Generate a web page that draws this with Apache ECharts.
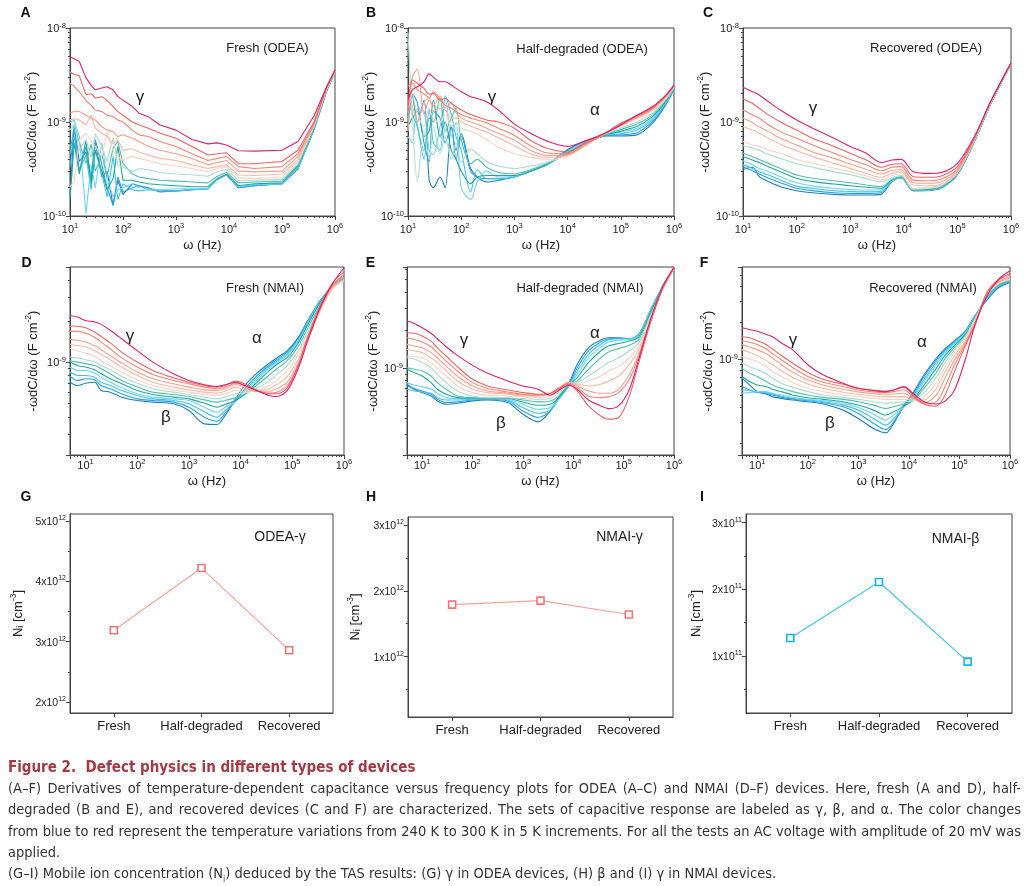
<!DOCTYPE html>
<html><head><meta charset="utf-8">
<script src="https://cdn.jsdelivr.net/npm/echarts@6/dist/echarts.min.js"></script>
<style>
html,body{margin:0;padding:0;background:#fff;}
#chart{position:absolute;left:0;top:0;width:1029px;height:886px;}
#cap{position:absolute;left:8px;top:757px;width:1013px;font-family:'Liberation Sans Narrow','DejaVu Sans Condensed',sans-serif;color:#333;}
#cap .t{font-weight:bold;color:#a63a44;font-size:15px;line-height:21px;white-space:nowrap;}
#cap .l{font-size:14.5px;line-height:21.3px;white-space:nowrap;}
#cap .j{text-align:justify;text-align-last:justify;}
#cap sub{font-size:9px;line-height:0;}
</style></head><body>
<div id="chart"></div>
<div id="cap">
<div class="t">Figure 2.&nbsp; Defect physics in different types of devices</div>
<div class="l j">(A–F) Derivatives of temperature-dependent capacitance versus frequency plots for ODEA (A–C) and NMAI (D–F) devices. Here, fresh (A and D), half-</div>
<div class="l j">degraded (B and E), and recovered devices (C and F) are characterized. The sets of capacitive response are labeled as γ, β, and α. The color changes</div>
<div class="l j">from blue to red represent the temperature variations from 240 K to 300 K in 5 K increments. For all the tests an AC voltage with amplitude of 20 mV was</div>
<div class="l">applied.</div>
<div class="l">(G–I) Mobile ion concentration (N<sub>i</sub>) deduced by the TAS results: (G) γ in ODEA devices, (H) β and (I) γ in NMAI devices.</div>
</div>
<script>
// ---------------- DATA ----------------
// temperatures of the curves (blue -> red)
const TEMPS_K = [240,245,250,255,260,265,270,275,280,285,290,295,300];
const TEMP_COLORS = ['#1f7fbf','#2aa3dc','#43c1ec','#6fd3f2','#1fa89a','#52bfae','#a8ddd0','#fbd3c4','#f8b9a8','#f5a08f','#f28677','#ee6363','#d8246f'];

// -wdC/dw values are in units of 1e-10 F cm^-2, frequencies in Hz
const FREQ_A = [10,12,15,20,25,30,40,50,65,80,100,150,200,300,500,1000,2000,4000,6000,9000,15000,30000,100000,200000,400000,700000,1000000];
const CURVES_A = [ // Fresh (ODEA), 240 K ... 300 K
 [1.6,9.0,3.8,4.8,2.4,6.0,2.6,3.0,1.3,2.4,1.7,2.2,2.1,2.0,1.8,1.85,1.9,1.95,2.45,2.75,2.0,2.1,2.2,3.2,8.2,21.5,34],
 [3.3,8.5,3.0,5.5,2.5,6.5,3.5,2.0,1.3,2.6,1.8,2.0,2.1,1.95,1.85,1.85,1.9,1.95,2.45,2.75,2.0,2.1,2.2,3.2,8.3,21.8,34],
 [5.5,7,3.0,4.5,1.9,5.0,2.8,1.6,4.3,1.5,2.2,1.9,1.85,1.9,1.85,1.85,1.9,1.95,2.45,2.75,2.05,2.15,2.2,3.25,8.4,22,34],
 [9.8,10.5,7,1.05,3.5,2.0,6,2.5,1.6,1.9,2.0,2.2,2.0,1.95,1.9,1.95,1.95,1.95,2.45,2.75,2.05,2.15,2.2,3.3,8.5,22,34],
 [1.5,6,2.8,6.4,2.2,5,3.0,1.9,2.5,5.5,2.4,2.4,2.3,2.2,2.15,2.1,2.05,2.05,2.5,2.78,2.1,2.2,2.25,3.4,8.7,22.2,34.2],
 [4.5,9.5,6.0,3.6,5.8,3.0,4.5,2.6,5.3,6.2,3.6,2.8,2.6,2.5,2.4,2.35,2.3,2.25,2.65,2.9,2.25,2.3,2.35,3.5,8.8,22.3,34.3],
 [8.2,9.5,5,6.5,4.2,7.5,5.5,3.8,6.8,3.5,3.3,3.0,3.2,3.1,2.9,2.8,2.75,2.65,2.95,3.15,2.4,2.4,2.45,3.6,9,22.5,34.5],
 [2.05,2.3,6.4,7.6,6.4,5.5,4.3,7.8,5,4.3,3.94,4.3,4.1,3.9,3.6,3.4,3.2,2.95,3.2,3.35,2.56,2.5,2.6,3.8,9.1,22.6,34.5],
 [10.5,10.8,10.5,9.3,11.8,8.6,7.6,7,5.9,6.4,5.0,5.2,4.8,4.45,4.1,3.9,3.5,3.2,3.35,3.5,2.73,2.7,2.8,4.0,9.3,22.8,34.8],
 [12.4,13,12.9,11.8,11,10.5,8.9,8.2,7.9,7,7.3,6.7,6.2,5.5,5,4.6,4.1,3.5,3.7,3.9,3.0,2.95,3.0,4.3,9.4,23,35],
 [25.8,24,21,17,15,13.4,12.9,11.8,11.4,10.5,10,8.2,7.3,7,6.2,5.5,4.6,3.9,4.1,4.3,3.35,3.2,3.35,4.6,9.7,23.4,35],
 [34,32,31,19.5,20,18,18.6,17,14.6,12.9,11.8,10,9.3,8.6,7.6,6.7,5.5,4.45,4.6,4.7,3.6,3.6,3.8,5.0,10,23.5,35.5],
 [49.5,47,44,29.5,24.5,22,23,23.7,22,18.6,17.1,14.6,12.4,11.4,9.3,8.2,6.5,5.85,6.0,5.7,4.95,4.9,5.0,6.2,11.5,24,36]
];

const FREQ_B = [10,12,15,20,25,30,40,50,65,80,100,150,200,300,500,1000,2000,4000,10000,20000,50000,100000,200000,400000,700000,1000000];
const CURVES_B = [ // Half-degraded (ODEA)
 [12,19,10,17,2.4,2.0,2.6,2.0,9,5,7.5,3.2,2.6,2.3,2.4,2.6,3.0,3.5,5.1,6.2,7.1,7.1,7.3,9.8,15.3,22.3],
 [11,20,16,6,3.8,13,11,6,9,4,7,3.0,2.6,2.5,2.5,2.6,3.0,3.5,5.0,6.1,7.1,7.3,7.7,10.2,15.6,22.5],
 [18,12,9,4,14,6,5,19,12,7,5,1.8,3.1,2.5,2.5,2.6,3.0,3.5,4.9,6.0,7.2,7.5,8.2,10.6,15.9,22.7],
 [7,6,14,13,5,4.5,9,18,7,10,2,1.5,2.3,3.0,2.6,2.65,3.0,3.5,4.8,5.9,7.2,7.8,8.6,11.0,16.2,22.9],
 [9,11,13,7,8,17,7,10,5,4,3.0,2.2,2.6,2.7,2.7,2.7,3.0,3.5,4.7,5.8,7.2,8.0,9.0,11.5,16.6,23.1],
 [8,20,9,5,11,10,18,8,11,14,6.5,3.6,4.0,3.3,2.9,2.8,3.1,3.6,4.6,5.7,7.3,8.3,9.5,12.0,17.0,23.3],
 [90,12,2.3,8,4,9,4.6,7,4,6,3.7,5.2,4.6,3.8,3.4,3.2,3.4,3.7,4.5,5.6,7.4,8.6,10.0,12.6,17.5,23.5],
 [14,20,12,9,14,11,10,12,9,10,8.6,8.0,7.4,6.5,5.4,4.6,4.2,4.0,4.3,5.4,7.5,9.0,10.7,13.3,18.1,23.8],
 [18,15,10,16,18,13,14,13.5,11,11,10,9,8.5,7.8,6.8,5.6,4.6,4.2,4.4,5.5,7.5,9.2,11.0,13.6,18.4,24],
 [8,30,36,12,17,15,19,14,16,12.5,11,10,9.5,8.6,7.6,6.4,5.0,4.4,4.5,5.6,7.5,9.4,11.2,13.9,18.6,24.2],
 [24,26,22,20,18,21,17.5,15,14,13,12,11,10.5,9.8,8.6,7.2,5.6,4.7,4.6,5.7,7.5,9.6,11.4,14.1,18.8,24.3],
 [13.4,28,25.8,22.8,19.7,20.2,17.1,17.8,15.8,14.6,13.4,12,11.4,10.5,10,8.6,6.4,5.3,4.8,5.9,7.6,9.7,11.6,14.3,19,24.5],
 [17.1,21.9,23.7,26.8,32.5,30,26.8,26.8,24.7,22.8,21,18.6,17.8,16.4,13.4,9.5,7.6,6.3,5.5,6.2,7.6,9.3,11.8,14.6,19.3,24.7]
];

const FREQ_C = [10,15,20,30,50,100,200,500,1000,2000,3800,6000,9000,15000,30000,50000,100000,200000,400000,700000,1000000];
const CURVES_C = [ // Recovered (ODEA)
 [3.13,3.3,2.62,2.32,2.05,1.86,1.77,1.7,1.67,1.67,1.71,2.33,2.55,1.86,1.87,1.98,2.75,5.9,14.7,27.9,41.7],
 [3.35,3.03,2.8,2.52,2.26,1.97,1.86,1.77,1.74,1.74,1.77,2.35,2.55,1.86,1.88,2.0,2.78,5.95,14.8,28,41.7],
 [3.5,3.21,2.96,2.73,2.41,2.08,1.97,1.86,1.83,1.81,1.83,2.36,2.55,1.87,1.89,2.0,2.8,6.0,14.9,28.1,41.8],
 [3.88,3.5,3.21,2.96,2.62,2.26,2.08,1.97,1.92,1.89,1.89,2.38,2.57,1.87,1.9,2.02,2.82,6.0,14.9,28.2,41.8],
 [4.28,3.94,3.7,3.35,2.96,2.52,2.32,2.19,2.1,2.02,1.97,2.42,2.6,1.89,1.92,2.03,2.84,6.05,15,28.3,41.9],
 [4.64,4.28,4.0,3.63,3.21,2.73,2.52,2.37,2.26,2.14,2.05,2.45,2.62,1.89,1.94,2.05,2.87,6.1,15.0,28.4,41.9],
 [5.6,5.3,5.0,4.5,4.1,3.6,3.3,2.95,2.75,2.5,2.3,2.55,2.7,1.93,1.98,2.1,2.88,6.1,15.1,28.5,42],
 [6.2,5.7,5.5,5.04,4.64,4.0,3.63,3.21,2.96,2.66,2.41,2.7,2.8,1.97,2.02,2.14,2.9,6.2,15.2,28.6,42],
 [8.9,8.2,7.6,6.7,5.8,4.95,4.28,3.63,3.21,2.84,2.58,2.85,2.95,2.14,2.1,2.19,2.96,6.2,15.3,28.7,42.1],
 [11,9.8,8.9,7.9,6.7,5.7,4.8,4.1,3.57,3.13,2.8,3.05,3.1,2.26,2.23,2.32,3.03,6.3,15.4,28.8,42.2],
 [13.4,11.9,11,9.3,7.9,6.7,5.7,4.64,4.0,3.5,3.03,3.3,3.35,2.41,2.37,2.47,3.16,6.4,15.5,28.9,42.3],
 [17.6,15.8,14,11.9,10,8.2,6.7,5.5,4.64,3.94,3.3,3.55,3.6,2.62,2.58,2.66,3.35,6.5,15.6,29,42.4],
 [23.4,21,19.4,16.4,13.4,10.5,8.6,6.7,5.5,4.64,3.7,3.95,4.0,2.96,2.84,2.9,3.63,6.7,15.8,29.2,42.7]
];

const FREQ_DEF = [5,7,10,15,20,30,50,100,200,500,1000,2000,3500,5000,8000,12000,20000,35000,50000,80000,130000,200000,350000,600000,1000000];
const CURVES_D = [ // Fresh (NMAI)
 [7.17,6.78,7.05,7.17,6.24,6.06,5.57,5.27,5.12,4.98,4.45,3.55,3.51,4.08,5.41,6.78,8.26,9.8,10.8,12.2,15.2,20.3,28.5,35.7,41.1],
 [7.94,7.38,7.6,7.46,6.78,6.41,5.9,5.41,5.27,5.12,4.7,3.97,3.71,4.25,5.27,6.41,7.9,9.5,10.5,11.9,14.9,20.1,28.5,36.1,41.8],
 [8.5,8.03,8.03,7.8,7.17,6.78,6.24,5.73,5.41,5.27,4.98,4.33,3.97,4.45,5.21,6.16,7.6,9.25,10.2,11.6,14.6,19.8,28.2,36.3,42.3],
 [9.25,8.73,8.73,8.35,7.8,7.17,6.52,5.9,5.57,5.41,5.27,4.7,4.33,4.7,5.21,5.96,7.3,9.0,9.95,11.3,14.3,19.4,28.0,36.5,42.3],
 [10.06,9.5,9.25,8.84,8.26,7.6,6.98,6.24,5.83,5.57,5.41,5.03,4.7,4.92,5.27,5.83,7.05,8.64,9.67,10.9,13.9,19.0,27.7,36.9,42.8],
 [10.3,10.06,9.8,9.5,9.0,8.26,7.38,6.6,6.06,5.83,5.63,5.32,5.12,5.27,5.5,5.83,6.78,8.03,9.0,10.3,13.1,17.9,26.6,36.1,41.1],
 [10.94,10.8,10.46,10.06,9.5,8.84,7.9,7.05,6.41,6.06,5.83,5.57,5.41,5.57,5.9,5.96,6.41,7.3,8.17,9.5,12.2,16.7,25.5,35.3,40.4],
 [12.66,12.2,11.7,11.1,10.3,9.5,8.5,7.46,6.78,6.3,6.06,5.83,5.73,5.9,6.24,6.06,6.24,6.78,7.46,8.73,11.45,15.8,24.8,34.7,39.5],
 [13.55,13.3,12.96,12.2,11.45,10.46,9.25,8.03,7.17,6.6,6.3,6.06,5.96,6.16,6.6,6.3,6.16,6.41,6.9,7.9,10.6,15.2,24.4,35.3,40.4],
 [14.75,14.5,14.1,13.3,12.4,11.25,9.9,8.5,7.6,6.98,6.6,6.3,6.24,6.41,6.9,6.6,6.16,6.16,6.41,7.17,9.9,14.6,24.4,36.1,42.3],
 [16.9,16.9,16.4,15.3,14.1,12.6,10.8,9.25,8.17,7.38,6.98,6.6,6.41,6.6,7.05,6.78,6.24,5.96,6.06,6.78,9.5,15.2,25.2,36.7,44.3],
 [18.5,18.4,17.96,16.7,15.5,13.9,11.9,10.06,8.73,7.72,7.17,6.78,6.6,6.78,7.3,6.98,6.3,5.9,5.9,6.52,9.5,15.5,26.2,38.2,46],
 [22.1,21.5,20.3,19.8,19.0,17.2,14.9,12.2,10.06,8.26,7.38,6.86,6.67,6.86,7.17,6.78,6.24,5.73,5.63,6.24,9.0,14.5,25.5,37.8,49.4]
];
const CURVES_E = [ // Half-degraded (NMAI)
 [7.48,6.83,6.43,6.05,5.53,5.21,5.3,5.53,5.63,5.37,4.34,3.78,4.61,5.87,7.48,10.75,14.5,16.7,17.4,17.4,17.1,18.5,29.2,44.5,62],
 [7.26,6.92,6.63,6.24,5.7,5.37,5.43,5.63,5.7,5.53,4.61,4.09,4.61,5.7,7.26,10.1,13.7,16.1,17.1,17.3,17.1,18.5,29.2,44.5,62],
 [6.83,6.63,6.51,6.36,5.87,5.63,5.63,5.7,5.77,5.63,4.9,4.42,4.69,5.63,7.17,9.53,12.9,15.45,16.7,17.1,17.1,18.4,29.2,44.5,62],
 [7.71,7.35,7.17,6.83,6.36,5.87,5.77,5.77,5.8,5.7,5.21,4.75,4.9,5.63,7.17,8.97,12.1,14.7,16.1,16.7,16.9,18.2,28.8,44.5,62],
 [9.82,9.25,8.7,7.71,6.83,6.24,5.87,5.8,5.8,5.77,5.43,5.11,5.21,5.77,7.26,8.45,11.1,13.7,15.0,15.7,16.4,17.7,28.3,44,62],
 [10.1,9.82,9.53,8.7,7.71,6.83,6.05,5.87,5.8,5.8,5.63,5.43,5.53,5.98,7.26,7.95,9.82,12.1,13.45,14.3,15.2,16.9,27.4,43.7,62],
 [12.1,11.8,11.1,10.1,8.97,7.71,6.63,6.05,5.87,5.87,5.77,5.7,5.77,6.36,7.48,7.71,8.7,10.1,11.1,12.1,13.7,15.9,26.6,43.2,62],
 [12.5,12.35,12.1,11.1,9.94,8.7,7.26,6.43,6.13,6.05,5.95,5.87,6.05,6.63,7.71,7.62,7.95,8.7,9.53,10.4,12.1,15.0,25.8,43.2,62],
 [14.1,13.7,13.3,12.1,11.1,9.53,7.95,6.83,6.43,6.24,6.05,6.05,6.24,6.83,7.8,7.48,7.26,7.48,7.95,8.7,10.75,14.1,25.1,43.2,62],
 [15.45,15.0,14.5,13.3,12.1,10.4,8.7,7.26,6.63,6.36,6.16,6.13,6.36,6.92,7.71,7.26,6.63,6.36,6.36,6.83,8.97,12.9,24.3,42.6,62],
 [17.4,16.9,16.1,14.8,13.3,11.4,9.53,7.71,6.92,6.51,6.24,6.13,6.36,6.92,7.62,7.05,6.05,5.87,5.95,6.43,8.19,12.5,24.3,42.6,62],
 [19.1,18.9,18.0,16.4,14.5,12.5,10.3,8.19,7.26,6.75,6.43,6.24,6.36,6.83,7.48,6.63,5.05,4.21,3.97,4.09,6.05,11.1,23.6,43.2,62],
 [23.6,22.6,20.9,18.9,17.1,14.8,12.65,10.55,9.13,7.95,7.26,6.83,6.13,6.63,7.35,6.83,5.63,5.05,4.81,5.05,6.83,11.8,25.1,44.5,63]
];
const CURVES_F = [ // Recovered (NMAI)
 [6.94,6.1,5.37,5.13,4.88,4.72,4.57,4.43,4.24,3.77,3.21,2.65,2.44,2.92,4.15,5.2,7.4,10.2,11.97,14.2,17.0,22.7,30.9,39.2,43.2],
 [5.91,5.54,5.27,5.2,5.04,4.81,4.66,4.51,4.34,4.02,3.54,2.92,2.6,3.01,4.07,5.04,7.16,9.87,11.7,14.05,16.8,22.6,31.3,40.0,43.7],
 [5.54,5.48,5.37,5.27,5.13,4.94,4.72,4.57,4.43,4.15,3.77,3.21,2.83,3.21,4.02,4.88,6.81,9.44,11.4,13.8,16.6,22.4,31.7,40.4,44.3],
 [5.2,5.27,5.37,5.37,5.2,5.04,4.81,4.63,4.51,4.29,3.97,3.49,3.11,3.43,4.02,4.72,6.51,8.97,11.0,13.4,16.4,22.3,32.1,41.0,44.6],
 [7.16,6.51,6.1,5.91,5.62,5.37,5.04,4.78,4.63,4.43,4.15,3.77,3.43,3.65,4.07,4.57,6.1,8.41,10.5,13.0,16.0,22.0,32.6,41.3,44.8],
 [8.41,7.64,7.16,6.51,6.1,5.72,5.37,5.04,4.81,4.63,4.43,4.15,3.89,4.02,4.24,4.51,5.72,7.74,9.87,12.5,15.6,21.7,33.0,41.5,45.1],
 [9.26,8.68,8.14,7.54,6.94,6.3,5.84,5.37,5.04,4.81,4.63,4.43,4.29,4.34,4.43,4.51,5.27,7.07,9.14,11.97,15.3,21.3,33.4,42.0,45.4],
 [10.5,10,9.56,8.68,7.89,7.16,6.38,5.72,5.37,5.04,4.88,4.72,4.63,4.63,4.63,4.57,4.88,6.38,8.41,11.4,14.7,20.6,33.8,42.6,46.0],
 [11.97,11.4,10.7,9.75,8.97,8.04,7.07,6.22,5.72,5.31,5.1,4.94,4.88,4.88,4.88,4.63,4.57,5.72,7.64,10.7,14.05,20.0,34.2,43.2,46.9],
 [13.2,12.6,11.97,11.1,10.2,8.97,7.79,6.72,6.1,5.62,5.34,5.17,5.1,5.13,5.2,4.72,4.34,5.04,6.72,9.87,13.6,19.7,34.7,44.0,48.1],
 [14.2,13.8,13.2,12.1,11.1,9.87,8.52,7.16,6.42,5.91,5.54,5.34,5.27,5.37,5.54,4.88,4.24,4.43,5.72,8.97,13.2,19.4,35.1,45.1,49.7],
 [15.3,15.0,14.2,13.2,12.1,10.7,9.26,7.74,6.81,6.18,5.72,5.51,5.41,5.54,5.84,5.04,4.24,4.07,4.88,7.89,12.8,19.0,35.6,46.0,51.3],
 [18.2,17.6,17.0,16.0,15.3,13.6,11.97,8.97,7.4,6.3,5.72,5.48,5.37,5.54,5.91,5.2,4.43,4.24,4.43,5.54,9.87,18.75,33.4,46.0,54.0]
];

// Mobile ion concentration panels
const DEVICE_STATES = ['Fresh','Half-degraded','Recovered'];
const NI_ODEA_GAMMA = [3.19, 4.22, 2.86];   // x10^12 cm^-3
const NI_NMAI_GAMMA = [1.79, 1.85, 1.64];   // x10^12 cm^-3
const NI_NMAI_BETA  = [1.27, 2.11, 0.915];  // x10^11 cm^-3
const TICKS_G = [2,3,4,5];
const TICKS_H = [1,2,3];
const TICKS_I = [1,2,3];

// ---------------- LAYOUT ----------------
const FONT = '"Liberation Sans", Arial, sans-serif';
const AX = '#444';
const POW_RICH = {
  b: {fontSize: 11, lineHeight: 13, verticalAlign: 'bottom', color: '#222', fontFamily: FONT},
  s: {fontSize: 7.5, lineHeight: 13, verticalAlign: 'top', color: '#222', fontFamily: FONT}
};
const NAME_RICH = {
  n: {fontSize: 13, lineHeight: 16, verticalAlign: 'bottom', color: '#222', fontFamily: FONT},
  s: {fontSize: 8.5, lineHeight: 16, verticalAlign: 'top', color: '#222', fontFamily: FONT},
  u: {fontSize: 9, lineHeight: 16, verticalAlign: 'bottom', color: '#222', fontFamily: FONT}
};

const PANELS = [
  {freq: FREQ_A, curves: CURVES_A, grid: {left: 70, top: 28, width: 265, height: 188}, x: [10, 1e6], y: [1, 100], smooth: 0, xm: 6, xg: 23, yg: 30},
  {freq: FREQ_B, curves: CURVES_B, grid: {left: 408, top: 28, width: 266, height: 188}, x: [10, 1e6], y: [1, 100], smooth: 0.3, xm: 6, xg: 23, yg: 27},
  {freq: FREQ_C, curves: CURVES_C, grid: {left: 743, top: 28, width: 268, height: 188}, x: [10, 1e6], y: [1, 100], smooth: 0.3, xm: 6, xg: 23, yg: 24},
  {freq: FREQ_DEF, curves: CURVES_D, grid: {left: 70, top: 267, width: 274, height: 188}, x: [5, 1e6], y: [2.1, 50], smooth: 0.3, xm: 3, xg: 20, yg: 30},
  {freq: FREQ_DEF, curves: CURVES_E, grid: {left: 407, top: 267, width: 267, height: 188}, x: [5, 1e6], y: [2.07, 63], smooth: 0.3, xm: 3, xg: 20, yg: 26},
  {freq: FREQ_DEF, curves: CURVES_F, grid: {left: 742, top: 267, width: 268, height: 188}, x: [5, 1e6], y: [1.6, 58], smooth: 0.3, xm: 3, xg: 20, yg: 26}
];
const NI_PANELS = [
  {data: NI_ODEA_GAMMA, ticks: TICKS_G, minor: [2.5, 3.5, 4.5], exp: 12, y: [1.82, 5.115], grid: {left: 70, top: 514, width: 263, height: 199}, line: '#f7a39c', mark: '#f27575', yg: 45},
  {data: NI_NMAI_GAMMA, ticks: TICKS_H, minor: [0.5, 1.5, 2.5], exp: 12, y: [0.084, 3.12], grid: {left: 408, top: 517, width: 265, height: 200}, line: '#f7a39c', mark: '#f27575', yg: 46},
  {data: NI_NMAI_BETA, ticks: TICKS_I, minor: [0.5, 1.5, 2.5], exp: 11, y: [0.145, 3.13], grid: {left: 746, top: 514, width: 266, height: 199}, line: '#3cc6ee', mark: '#15b4e6', yg: 43}
];

function minorLogTicks(min, max) {
  const out = [];
  const d0 = Math.floor(Math.log10(min)), d1 = Math.ceil(Math.log10(max));
  for (let d = d0; d < d1; d++) {
    for (let k = 2; k <= 9; k++) {
      const v = k * Math.pow(10, d);
      if (v > min * 1.001 && v < max * 0.999) out.push(Math.log10(v));
    }
  }
  return out;
}
function powLabel(offset) {
  return function (v) {
    const e = Math.log10(v);
    const r = Math.round(e);
    if (Math.abs(e - r) > 1e-6) return '';
    return '{b|10}{s|' + (r + offset) + '}';
  };
}

const grids = [], xAxes = [], yAxes = [], series = [];
PANELS.forEach((p, i) => {
  grids.push(Object.assign({show: true, borderColor: AX, borderWidth: 1, containLabel: false}, p.grid));
  xAxes.push({
    type: 'log', logBase: 10, gridIndex: i, min: p.x[0], max: p.x[1], position: 'bottom',
    axisLine: {show: true, onZero: false, lineStyle: {color: AX, width: 1}},
    axisTick: {show: true, length: 4, lineStyle: {color: AX}},
    axisLabel: {formatter: powLabel(0), margin: p.xm, rich: POW_RICH},
    splitLine: {show: false},
    name: 'ω (Hz)', nameLocation: 'middle', nameGap: p.xg,
    nameTextStyle: {fontSize: 13, color: '#222', fontFamily: FONT}
  });
  xAxes.push({
    type: 'value', gridIndex: i, min: Math.log10(p.x[0]), max: Math.log10(p.x[1]), position: 'bottom',
    axisLine: {show: false, onZero: false}, axisLabel: {show: false}, splitLine: {show: false},
    axisTick: {show: true, length: 2, lineStyle: {color: AX}, customValues: minorLogTicks(p.x[0], p.x[1])}
  });
  yAxes.push({
    type: 'log', logBase: 10, gridIndex: i, min: p.y[0], max: p.y[1], position: 'left',
    axisLine: {show: true, onZero: false, lineStyle: {color: AX, width: 1}},
    axisTick: {show: true, length: 4, lineStyle: {color: AX}},
    axisLabel: {formatter: powLabel(-10), margin: 4, rich: POW_RICH},
    splitLine: {show: false},
    name: '{n|-ωdC/dω (F cm}{s|-2}{n|)}', nameLocation: 'middle', nameRotate: 90, nameGap: p.yg,
    nameTextStyle: {rich: NAME_RICH}
  });
  yAxes.push({
    type: 'value', gridIndex: i, min: Math.log10(p.y[0]), max: Math.log10(p.y[1]), position: 'left',
    axisLine: {show: false, onZero: false}, axisLabel: {show: false}, splitLine: {show: false},
    axisTick: {show: true, length: 2, lineStyle: {color: AX}, customValues: minorLogTicks(p.y[0], p.y[1])}
  });
  p.curves.forEach((vals, t) => {
    series.push({
      type: 'line', name: TEMPS_K[t] + ' K', xAxisIndex: 2 * i, yAxisIndex: 2 * i,
      data: p.freq.map((f, j) => [f, vals[j]]),
      showSymbol: false, symbol: 'none', smooth: p.smooth,
      lineStyle: {color: TEMP_COLORS[t], width: 1.1}, silent: true, clip: true
    });
  });
});

NI_PANELS.forEach((p, q) => {
  const gi = 6 + q;
  grids.push(Object.assign({show: true, borderColor: AX, borderWidth: 1, containLabel: false}, p.grid));
  xAxes.push({
    type: 'category', gridIndex: gi, data: DEVICE_STATES, boundaryGap: true, position: 'bottom',
    axisLine: {show: true, onZero: false, lineStyle: {color: AX}},
    axisTick: {show: true, alignWithLabel: true, interval: 0, length: 4, lineStyle: {color: AX}},
    axisLabel: {interval: 0, hideOverlap: false, fontSize: 13, color: '#222', margin: 7, fontFamily: FONT},
    splitLine: {show: false}
  });
  yAxes.push({
    type: 'value', gridIndex: gi, min: p.y[0], max: p.y[1], position: 'left',
    axisLine: {show: true, onZero: false, lineStyle: {color: AX}},
    axisTick: {show: true, length: 4, lineStyle: {color: AX}, customValues: p.ticks},
    axisLabel: {customValues: p.ticks, margin: 4, rich: {
      b: {fontSize: 10.5, lineHeight: 13, verticalAlign: 'bottom', color: '#222', fontFamily: FONT},
      s: {fontSize: 7, lineHeight: 13, verticalAlign: 'top', color: '#222', fontFamily: FONT}},
      formatter: v => '{b|' + v + 'x10}{s|' + p.exp + '}'},
    splitLine: {show: false},
    name: '{n|N}{u|i}{n| [cm}{s|-3}{n|]}', nameLocation: 'middle', nameRotate: 90, nameGap: p.yg,
    nameTextStyle: {rich: NAME_RICH}
  });
  yAxes.push({
    type: 'value', gridIndex: gi, min: p.y[0], max: p.y[1], position: 'left',
    axisLine: {show: false, onZero: false}, axisLabel: {show: false}, splitLine: {show: false},
    axisTick: {show: true, length: 2, lineStyle: {color: AX}, customValues: p.minor}
  });
  series.push({
    type: 'line', xAxisIndex: 12 + q, yAxisIndex: 12 + 2 * q, data: p.data,
    symbol: 'rect', symbolSize: 7, showSymbol: true,
    itemStyle: {color: '#fff', borderColor: p.mark, borderWidth: 1.6},
    lineStyle: {color: p.line, width: 1.1}, silent: true, z: 3
  });
});

const TXT = (text, x, y, font, fill) => ({type: 'text', x: x, y: y, silent: true,
  style: {text: text, font: font, fill: fill || '#111', align: 'center', verticalAlign: 'middle', textAlign: 'center', textVerticalAlign: 'middle'}});
const LETTER_FONT = 'bold 14px ' + FONT;
const TITLE_FONT = '13px ' + FONT;
const GREEK_FONT = '17px ' + FONT;
const graphics = [
  TXT('A', 25.5, 13.5, LETTER_FONT), TXT('B', 371, 13.5, LETTER_FONT), TXT('C', 708, 13.5, LETTER_FONT),
  TXT('D', 26.5, 263.5, LETTER_FONT), TXT('E', 370.5, 263.5, LETTER_FONT), TXT('F', 704, 263.5, LETTER_FONT),
  TXT('G', 26, 497, LETTER_FONT), TXT('H', 371, 497, LETTER_FONT), TXT('I', 702, 497, LETTER_FONT),
  TXT('Fresh (ODEA)', 267.5, 48.5, TITLE_FONT, '#222'),
  TXT('Half-degraded (ODEA)', 582, 49, TITLE_FONT, '#222'),
  TXT('Recovered (ODEA)', 926, 48.5, TITLE_FONT, '#222'),
  TXT('Fresh (NMAI)', 265, 288.5, TITLE_FONT, '#222'),
  TXT('Half-degraded (NMAI)', 580, 288.5, TITLE_FONT, '#222'),
  TXT('Recovered (NMAI)', 923, 288.5, TITLE_FONT, '#222'),
  TXT('γ', 140, 97, GREEK_FONT, '#222'),
  TXT('γ', 492, 97, GREEK_FONT, '#222'), TXT('α', 595, 110, GREEK_FONT, '#222'),
  TXT('γ', 813, 108, GREEK_FONT, '#222'),
  TXT('γ', 130, 336, GREEK_FONT, '#222'), TXT('α', 257, 338, GREEK_FONT, '#222'), TXT('β', 166, 417, GREEK_FONT, '#222'),
  TXT('γ', 464, 340, GREEK_FONT, '#222'), TXT('α', 595, 333, GREEK_FONT, '#222'), TXT('β', 501, 423, GREEK_FONT, '#222'),
  TXT('γ', 793, 340, GREEK_FONT, '#222'), TXT('α', 922, 342, GREEK_FONT, '#222'), TXT('β', 830, 423, GREEK_FONT, '#222'),
  TXT('ODEA-γ', 280, 537, '14px ' + FONT, '#222'),
  TXT('NMAI-γ', 619.5, 537, '14px ' + FONT, '#222'),
  TXT('NMAI-β', 955.5, 539, '14px ' + FONT, '#222')
];

const chart = echarts.init(document.getElementById('chart'), null, {renderer: 'canvas'});
chart.setOption({
  backgroundColor: '#fff',
  animation: false,
  textStyle: {fontFamily: FONT},
  grid: grids, xAxis: xAxes, yAxis: yAxes, series: series,
  graphic: graphics
});
</script>
</body></html>
